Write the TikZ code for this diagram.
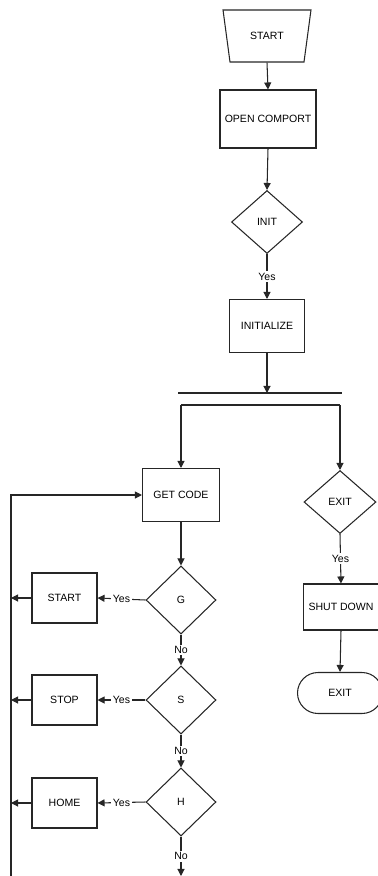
\documentclass[tikz,border=0pt]{standalone}
\usepackage{fontspec}
\setmainfont{Liberation Sans}
\usetikzlibrary{shapes.geometric, shapes.misc, arrows.meta}

\begin{document}
\begin{tikzpicture}[x=0.02cm, y=-0.02cm,
    every node/.style={font=\fontsize{6}{7}\selectfont},
    >={Triangle[length=4pt, width=4pt]},
    line/.style={draw=black!85, line width=0.6pt},
    procbox/.style={draw=black!85, line width=0.6pt, rectangle, inner sep=0pt},
    decision/.style={draw=black!85, line width=0.6pt, diamond, inner sep=0pt,
      minimum width=1.4cm, minimum height=1.36cm},
    lbl/.style={fill=white, inner sep=1pt}]
    \useasboundingbox (0,0) rectangle (378,876);
    % main column
    \node[draw=black!85, line width=0.6pt, trapezium, trapezium stretches=true,
      trapezium angle=67, shape border rotate=180, minimum width=1.76cm,
      minimum height=1.04cm, inner sep=0pt] (start) at (267,36) {START};
    \node[procbox, minimum width=1.92cm, minimum height=1.16cm] (opencom) at (268,119) {OPEN COMPORT};
    \node[decision, minimum width=1.42cm, minimum height=1.26cm] (init) at (267,222) {INIT};
    \node[procbox, minimum width=1.5cm, minimum height=1.06cm] (initial) at (267,326) {INITIALIZE};
    \coordinate (bar) at (267,393);
    \coordinate (barL) at (178,393);
    \coordinate (barR) at (342,393);
    \coordinate (splitL) at (181,405);
    \coordinate (splitR) at (340,405);
    % right branch
    \node[decision, minimum width=1.44cm, minimum height=1.26cm] (exitq) at (340,502) {EXIT};
    \node[procbox, minimum width=1.5cm, minimum height=0.92cm] (shutdown) at (341,607) {SHUT DOWN};
    \node[draw=black!85, line width=0.6pt, rounded rectangle, minimum width=1.7cm,
      minimum height=0.82cm, inner sep=0pt] (exitend) at (340,693) {EXIT};
    % left branch
    \node[procbox, minimum width=1.54cm, minimum height=1.06cm] (getcode) at (181,495) {GET CODE};
    \node[decision] (gq) at (181,600) {G};
    \node[decision] (sq) at (181,700) {S};
    \node[decision] (hq) at (181,802) {H};
    \node[procbox, minimum width=1.3cm, minimum height=1.0cm] (startbox) at (64.5,598) {START};
    \node[procbox, minimum width=1.3cm, minimum height=1.0cm] (stopbox) at (64.5,700) {STOP};
    \node[procbox, minimum width=1.3cm, minimum height=1.0cm] (homebox) at (64.5,803) {HOME};
    \coordinate (loopbot) at (11,876);
    \coordinate (hqout) at (181,876);

    \draw[line, ->] (start.south) -- (opencom.north);
    \draw[line, ->] (opencom.south) -- (init.north);
    \draw[line, ->] (init.south) -- node[lbl] {Yes} (initial.north);
    \draw[line, ->] (initial.south) -- (bar);
    \draw[line] (barL) -- (barR);
    \draw[line] (splitL) -- (splitR);
    \draw[line, ->] (splitL) -- (getcode.north);
    \draw[line, ->] (splitR) -- (exitq.north);
    \draw[line, ->] (exitq.south) -- node[lbl] {Yes} (shutdown.north);
    \draw[line, ->] (shutdown.south) -- (exitend.north);
    \draw[line, ->] (getcode.south) -- (gq.north);
    \draw[line, ->] (gq.west) -- node[lbl] {Yes} (startbox.east);
    \draw[line, ->] (gq.south) -- node[lbl] {No} (sq.north);
    \draw[line, ->] (sq.west) -- node[lbl] {Yes} (stopbox.east);
    \draw[line, ->] (sq.south) -- node[lbl] {No} (hq.north);
    \draw[line, ->] (hq.west) -- node[lbl] {Yes} (homebox.east);
    \draw[line, ->] (hq.south) -- node[lbl] {No} (hqout);
    \draw[line, ->] (startbox.west) -- (startbox.west -| loopbot);
    \draw[line, ->] (stopbox.west) -- (stopbox.west -| loopbot);
    \draw[line, ->] (homebox.west) -- (homebox.west -| loopbot);
    \draw[line, ->] (loopbot) |- (getcode.west);
\end{tikzpicture}
\end{document}
